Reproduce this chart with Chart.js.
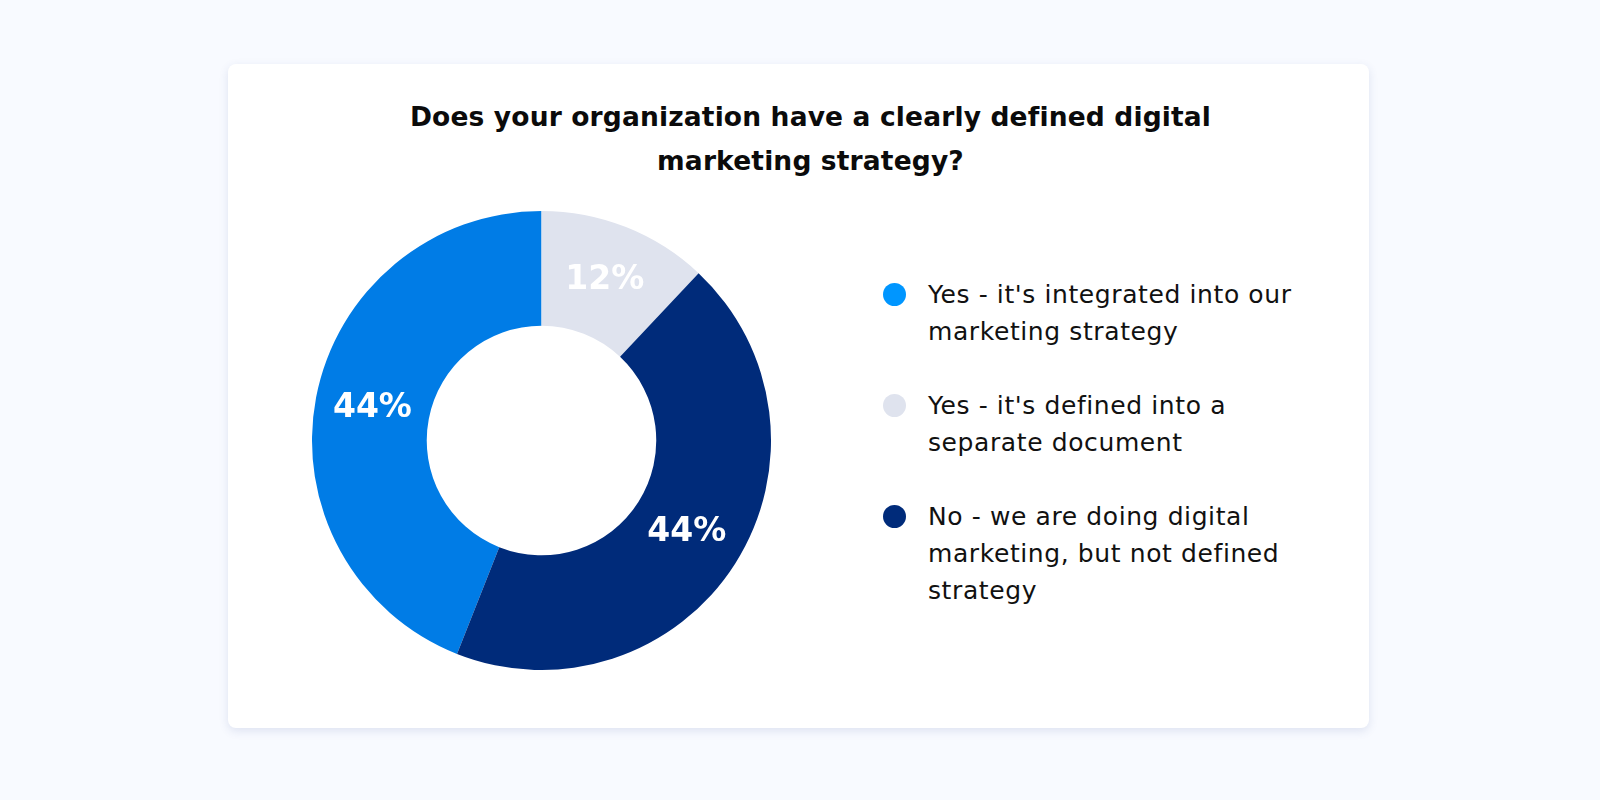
<!DOCTYPE html>
<html>
<head>
<meta charset="utf-8">
<script src="https://cdn.jsdelivr.net/npm/chart.js@4.4.1/dist/chart.umd.min.js"></script>
<style>
  html, body { margin:0; padding:0; width:1600px; height:800px; background:#f8faff; overflow:hidden; }
  #card { position:absolute; left:228px; top:64px; width:1141px; height:664px; background:#fff;
          border-radius:8px; box-shadow:0 3px 10px rgba(50,70,150,0.13); }
  #title { position:absolute; left:12px; top:31px; width:1141px; text-align:center;
           font-family:'DejaVu Sans', sans-serif; font-weight:bold; font-size:26.5px; letter-spacing:0.15px;
           line-height:44px; color:#0b0b0b; }
  #chartWrap { position:absolute; left:84px; top:147px; width:459px; height:459px; }
  #legend { position:absolute; left:655px; top:212px; list-style:none; margin:0; padding:0; }
  #legend li { position:relative; padding-left:45px; margin-bottom:37px;
               font-family:'DejaVu Sans', sans-serif; font-size:25px; letter-spacing:0.6px;
               line-height:37px; color:#111; white-space:nowrap; }
  #legend li span.dot { position:absolute; left:0; top:7px; width:23px; height:23px; border-radius:50%; }
</style>
</head>
<body>
<div id="card">
  <div id="title">Does your organization have a clearly defined digital<br>marketing strategy?</div>
  <div id="chartWrap"><canvas id="c" width="459" height="459"></canvas></div>
  <ul id="legend"></ul>
</div>
<script>
const categories = [
  ["Yes - it's integrated into our", "marketing strategy"],
  ["Yes - it's defined into a", "separate document"],
  ["No - we are doing digital", "marketing, but not defined", "strategy"]
];
const values = [44, 12, 44];
const sliceColors = ["#007ce6", "#dfe3ee", "#002b7a"];
const legendColors = ["#0096ff", "#dfe3ee", "#002b7a"];
const valueLabels = ["44%", "12%", "44%"];

const sliceLabelPlugin = {
  id: 'sliceLabels',
  afterDatasetsDraw(chart) {
    const ctx = chart.ctx;
    const meta = chart.getDatasetMeta(0);
    ctx.save();
    ctx.fillStyle = '#ffffff';
    ctx.font = 'bold 33px "DejaVu Sans", sans-serif';
    ctx.textAlign = 'center';
    ctx.textBaseline = 'middle';
    meta.data.forEach((arc, i) => {
      const p = arc.tooltipPosition();
      ctx.fillText(valueLabels[i], p.x, p.y);
    });
    ctx.restore();
  }
};

new Chart(document.getElementById('c'), {
  type: 'doughnut',
  data: {
    labels: categories,
    datasets: [{
      data: values,
      backgroundColor: sliceColors,
      borderWidth: 0,
      hoverOffset: 0
    }]
  },
  options: {
    responsive: false,
    animation: false,
    rotation: 201.6,
    cutout: '50%',
    layout: { padding: 0 },
    plugins: { legend: { display: false }, tooltip: { enabled: false } }
  },
  plugins: [sliceLabelPlugin]
});

const ul = document.getElementById('legend');
categories.forEach((lines, i) => {
  const li = document.createElement('li');
  const dot = document.createElement('span');
  dot.className = 'dot';
  dot.style.background = legendColors[i];
  li.appendChild(dot);
  lines.forEach((t, j) => {
    if (j) li.appendChild(document.createElement('br'));
    li.appendChild(document.createTextNode(t));
  });
  ul.appendChild(li);
});
</script>
</body>
</html>
